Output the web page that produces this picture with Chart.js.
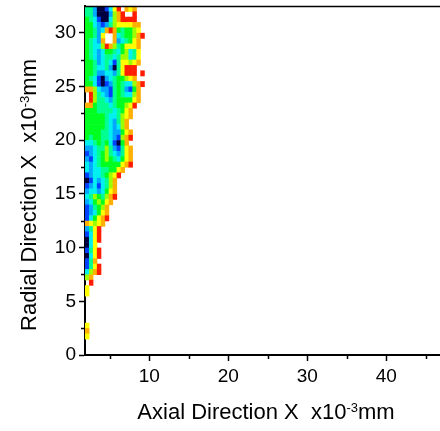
<!DOCTYPE html>
<html lang="en">
<head>
    <meta charset="UTF-8">
    <title>Radial vs Axial Contour</title>
    <script src="https://cdn.jsdelivr.net/npm/chart.js@4.4.0/dist/chart.umd.min.js"></script>
    <style>
        html, body { margin: 0; padding: 0; background: #fff; }
        #wrap { width: 440px; height: 431px; }
    </style>
</head>
<body>
    <div id="wrap"><canvas id="chart" width="440" height="431"></canvas></div>

    <script>
        // axis ranges and ticks
        const xRange = [1.86, 46.8];
        const yRange = [0, 32.5];
        const xMajorTicks = [10, 20, 30, 40];
        const xMinorTicks = [5, 15, 25, 35, 45];
        const yMajorTicks = [0, 5, 10, 15, 20, 25, 30];
        const yMinorTicks = [2.5, 7.5, 12.5, 17.5, 22.5, 27.5];

        // contour grid: first cell starts at x=1.86, cells are 0.5 x 0.5 (x10^-3 mm)
        const gridX0 = 1.86;
        const gridStep = 0.5;
        // one string per row, top row (y 32..32.5) first; digit = contour level, '.' = empty
        const levelRows = [
            "442001379.878",
            "4420002689..9",
            "5431003689999",
            "55321246777788",
            "55423898545567",
            "55427..83455689",
            "54328..8234578",
            "54336986457778",
            "54323554356347",
            "54323443466347",
            "55423431477678",
            "5543342047999",
            "5542233247999.9",
            "5431023455678",
            "553101245433689",
            "88632214542158",
            ".9643214543368",
            ".9644324555578",
            "8854443455679",
            "555444434578",
            "555554334678",
            "55555432468",
            "55555432368",
            "555544322578",
            "545544321689",
            "33454531058",
            "223446421478",
            "123456432478",
            "213456543578",
            "323455555789",
            "3233445578",
            "123345679",
            "01323468",
            "12313468",
            "23323578",
            "34654689",
            "2356578",
            "124568",
            "123578",
            "135789",
            "87678",
            "2479",
            "1379",
            "0379",
            "037",
            "1479",
            "0379",
            "148",
            "1479",
            "3689",
            "68",
            ".9",
            "7",
            "7",
            "", "", "", "", "",
            "7",
            "8",
            "7",
            "", "", ""
        ];
        const levelColors = ['#000040', '#0040ff', '#00a8ff', '#00f0f0', '#00ff90',
                             '#00ff20', '#9cff00', '#ffff00', '#ffb000', '#ff1c00'];

        const FONT = "'Liberation Sans', Arial, sans-serif";

        // filled contour cells, placed through the chart scales
        const cellPlugin = {
            id: 'cells',
            beforeDatasetsDraw(chart) {
                const { ctx, chartArea, scales: { x, y } } = chart;
                ctx.save();
                ctx.beginPath();
                ctx.rect(chartArea.left, chartArea.top, chartArea.width, chartArea.height);
                ctx.clip();
                const n = levelRows.length;
                levelRows.forEach((row, i) => {
                    const yLow = (n - 1 - i) * gridStep;
                    const py0 = y.getPixelForValue(yLow + gridStep);
                    const py1 = y.getPixelForValue(yLow);
                    for (let c = 0; c < row.length; c++) {
                        const ch = row[c];
                        if (ch === '.') continue;
                        const xLow = gridX0 + c * gridStep;
                        const px0 = x.getPixelForValue(xLow);
                        const px1 = x.getPixelForValue(xLow + gridStep);
                        ctx.fillStyle = levelColors[+ch];
                        ctx.fillRect(px0, py0, px1 - px0 + 0.5, py1 - py0 + 0.5);
                    }
                });
                ctx.restore();
            }
        };

        // minor ticks, frame top line and the axis titles with superscripts
        const decorPlugin = {
            id: 'decor',
            afterDraw(chart) {
                const { ctx, chartArea, scales: { x, y } } = chart;
                ctx.save();
                ctx.strokeStyle = '#000';
                ctx.lineWidth = 1.5;
                ctx.beginPath();
                xMinorTicks.forEach(v => {
                    const px = Math.round(x.getPixelForValue(v)) + 0.5;
                    ctx.moveTo(px, chartArea.bottom);
                    ctx.lineTo(px, chartArea.bottom + 4);
                });
                yMinorTicks.forEach(v => {
                    const py = Math.round(y.getPixelForValue(v)) + 0.5;
                    ctx.moveTo(chartArea.left - 4, py);
                    ctx.lineTo(chartArea.left, py);
                });
                ctx.stroke();

                ctx.beginPath();
                ctx.moveTo(chartArea.left, chartArea.top + 0.5);
                ctx.lineTo(chartArea.right, chartArea.top + 0.5);
                ctx.stroke();

                drawTitle(ctx, 'Axial Direction X  x10', '-3', 'mm', 266, 419, 0);
                drawTitle(ctx, 'Radial Direction X  x10', '-3', 'mm', 36, 195, -Math.PI / 2);
                ctx.restore();
            }
        };

        function drawTitle(ctx, main, sup, tail, cx, baseY, angle) {
            const big = '22px ' + FONT, small = '13px ' + FONT;
            ctx.font = big;
            const w1 = ctx.measureText(main).width;
            const w3 = ctx.measureText(tail).width;
            ctx.font = small;
            const w2 = ctx.measureText(sup).width;
            const total = w1 + w2 + w3;
            ctx.save();
            ctx.translate(cx, baseY);
            ctx.rotate(angle);
            ctx.fillStyle = '#000';
            ctx.textBaseline = 'alphabetic';
            ctx.textAlign = 'left';
            let pos = -total / 2;
            ctx.font = big;
            ctx.fillText(main, pos, 0);
            pos += w1;
            ctx.font = small;
            ctx.fillText(sup, pos, -7);
            pos += w2;
            ctx.font = big;
            ctx.fillText(tail, pos, 0);
            ctx.restore();
        }

        const tickFont = { family: FONT, size: 19 };

        new Chart(document.getElementById('chart'), {
            type: 'scatter',
            data: { datasets: [{ data: [], pointRadius: 0 }] },
            options: {
                responsive: false,
                animation: false,
                events: [],
                layout: { padding: { top: 6, right: 0, left: 0, bottom: 0 } },
                plugins: { legend: { display: false }, tooltip: { enabled: false } },
                scales: {
                    x: {
                        type: 'linear',
                        min: xRange[0],
                        max: xRange[1],
                        z: 1,
                        afterBuildTicks: s => { s.ticks = xMajorTicks.map(v => ({ value: v })); },
                        afterFit: s => { s.height = 76; s.paddingLeft = 0; s.paddingRight = 0; },
                        ticks: { font: tickFont, color: '#000', padding: 4, maxRotation: 0, autoSkip: false },
                        grid: { drawOnChartArea: false, drawTicks: true, tickLength: 6, tickWidth: 1.5, tickColor: '#000' },
                        border: { display: true, color: '#000', width: 2 }
                    },
                    y: {
                        type: 'linear',
                        min: yRange[0],
                        max: yRange[1],
                        z: 1,
                        afterBuildTicks: s => { s.ticks = yMajorTicks.map(v => ({ value: v })); },
                        afterFit: s => { s.width = 85; s.paddingTop = 0; s.paddingBottom = 0; },
                        ticks: { font: tickFont, color: '#000', padding: 3, autoSkip: false },
                        grid: { drawOnChartArea: false, drawTicks: true, tickLength: 6, tickWidth: 1.5, tickColor: '#000' },
                        border: { display: true, color: '#000', width: 2 }
                    }
                }
            },
            plugins: [cellPlugin, decorPlugin]
        });
    </script>
</body>
</html>
